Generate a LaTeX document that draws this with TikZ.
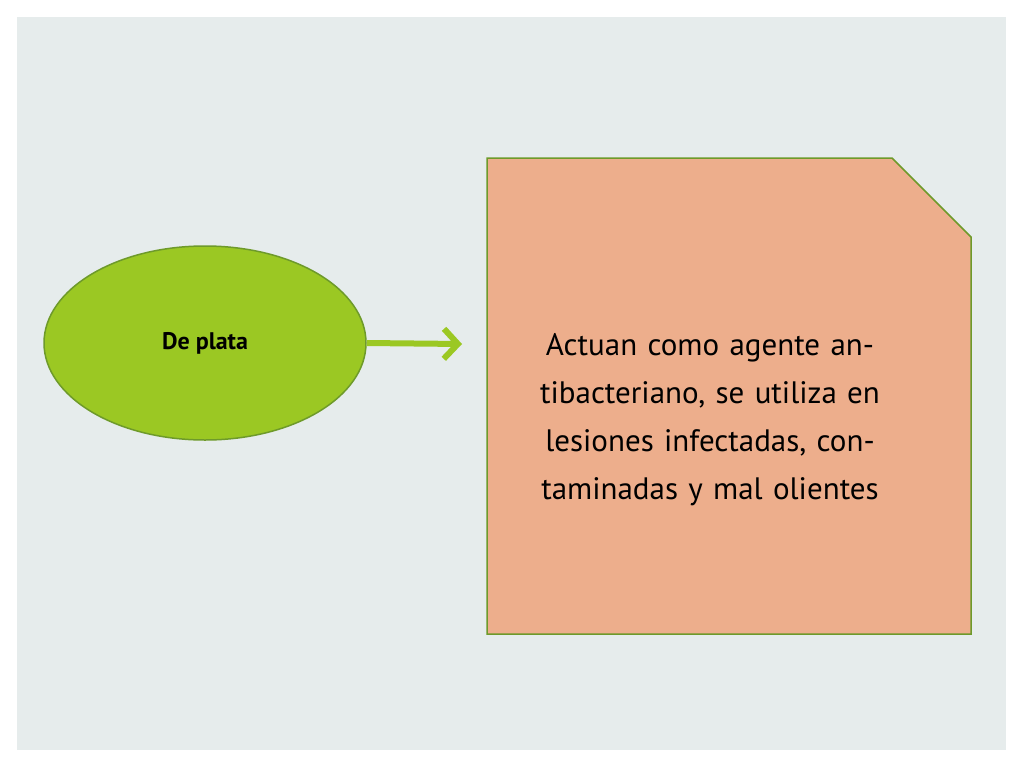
\documentclass[tikz,border=0pt]{standalone}
\usepackage{fontspec}
\setmainfont{PT Sans}
\usetikzlibrary{positioning,arrows.meta,shapes.geometric}
\definecolor{fondo}{HTML}{E6ECEC}
\definecolor{verde}{HTML}{9BC823}
\definecolor{verdeborde}{HTML}{6E9A2A}
\definecolor{salmon}{HTML}{EDAE8C}
\tikzset{
  tipo/.style={ellipse, draw=verdeborde, line width=1.5pt, fill=verde,
    minimum width=322pt, minimum height=194pt, font=\fontsize{24}{28}\selectfont\bfseries},
  texto/.style={align=center, text width=440pt, font=\fontsize{31}{48}\selectfont},
  flecha/.style={draw=verde, line width=6pt, -{Straight Barb[length=14pt,width=30pt,line width=6pt]}}
}
\begin{document}
\begin{tikzpicture}[x=1pt,y=-1pt]
    \useasboundingbox (0,0) rectangle (1024,768);
    \fill[fondo] (17,17) rectangle (1006,750);

    \node[tipo] at (205,343) (plata) {De plata};
    % caja con esquina cortada
    \draw[verdeborde, line width=1.5pt, fill=salmon]
        (487,158) -- (892,158) -- (971,237) -- (971,634) -- (487,634) -- cycle;
    \coordinate (entrada) at (462,344);
    \node[texto] at (710,420) (efecto) {Actuan como agente antibacteriano, se utiliza en lesiones infectadas, contaminadas y mal olientes};

    \draw[flecha] (plata.east) -- (entrada);
\end{tikzpicture}
\end{document}
